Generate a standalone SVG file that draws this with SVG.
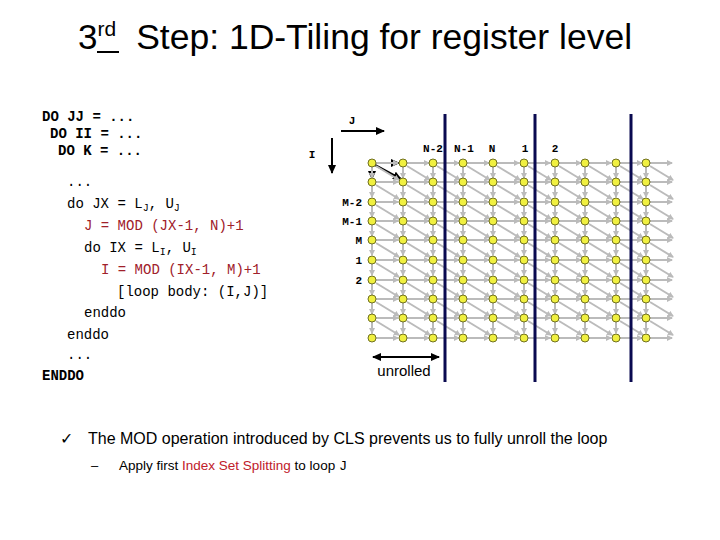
<svg xmlns="http://www.w3.org/2000/svg" xmlns:xlink="http://www.w3.org/1999/xlink" width="720" height="540" viewBox="0 0 720 540">
<style>
.code{font-family:"Liberation Mono",monospace;font-size:14px;fill:#000}
.b{font-weight:bold}
.red{fill:#a0202a}
.lbl{font-family:"Liberation Mono",monospace;font-size:11px;font-weight:bold;fill:#000}
.g{stroke:#bbb;stroke-width:2;fill:none;marker-end:url(#ga)}
.k{stroke:#000;stroke-width:2;fill:none;marker-end:url(#ka)}
.nd{fill:#f0f040;stroke:#707020;stroke-width:1}
.sans{font-family:"Liberation Sans",Arial,sans-serif}
</style>
<defs>
<marker id="ga" markerWidth="6" markerHeight="6" refX="5" refY="3" orient="auto" markerUnits="userSpaceOnUse"><path d="M0,0L6,3L0,6z" fill="#bbb"/></marker>
<marker id="ka" markerWidth="9" markerHeight="8" refX="8" refY="4" orient="auto" markerUnits="userSpaceOnUse"><path d="M0,0L9,4L0,8z" fill="#000"/></marker>
<marker id="ks" markerWidth="9" markerHeight="8" refX="1" refY="4" orient="auto" markerUnits="userSpaceOnUse"><path d="M9,0L0,4L9,8z" fill="#000"/></marker>
<g id="c"><line class="g" x1="4" y1="0" x2="26" y2="0"/><line class="g" x1="4" y1="3" x2="27" y2="17"/><line class="g" x1="0" y1="4" x2="0" y2="15"/><circle class="nd" r="4"/></g>
<g id="e"><line class="g" x1="4" y1="0" x2="26" y2="0"/><circle class="nd" r="4"/></g>
</defs>
<text class="sans" x="78" y="49" font-size="35">3<tspan font-size="21" dy="-13">rd</tspan><tspan dy="13" dx="20" font-size="35.5">Step: 1D-Tiling for register level</tspan></text>
<line x1="97" y1="52" x2="119" y2="52" stroke="#000" stroke-width="2"/>
<g id="code">
<text class="code b" x="42" y="121">DO JJ = ...</text>
<text class="code b" x="50" y="138">DO II = ...</text>
<text class="code b" x="58" y="155">DO K = ...</text>
<text class="code" x="67" y="186">...</text>
<text class="code" x="67" y="208">do JX = L<tspan font-size="10" dy="3">J</tspan><tspan dy="-3">, U</tspan><tspan font-size="10" dy="3">J</tspan></text>
<text class="code red" x="84" y="230">J = MOD (JX-1, N)+1</text>
<text class="code" x="84" y="252">do IX = L<tspan font-size="10" dy="3">I</tspan><tspan dy="-3">, U</tspan><tspan font-size="10" dy="3">I</tspan></text>
<text class="code red" x="101" y="274">I = MOD (IX-1, M)+1</text>
<text class="code" x="117" y="296">[loop body: (I,J)]</text>
<text class="code" x="84" y="317">enddo</text>
<text class="code" x="67" y="339">enddo</text>
<text class="code" x="67" y="359">...</text>
<text class="code b" x="42" y="380">ENDDO</text>
</g>
<g id="connectors">
<line class="k" x1="341" y1="131" x2="384" y2="131"/>
<line class="k" x1="332" y1="138" x2="332" y2="173"/>
<line class="k" x1="376" y1="163" x2="399" y2="163"/>
<line class="k" x1="372" y1="166" x2="372" y2="179"/>
<line class="k" x1="375" y1="165" x2="401" y2="179"/>
<line stroke="#000" stroke-width="2" x1="373" y1="357" x2="439" y2="357" marker-start="url(#ks)" marker-end="url(#ka)"/>
</g>
<g id="grid">
<use xlink:href="#c" x="372" y="163"/><use xlink:href="#c" x="403" y="163"/><use xlink:href="#c" x="433" y="163"/><use xlink:href="#c" x="463" y="163"/><use xlink:href="#c" x="493" y="163"/><use xlink:href="#c" x="524" y="163"/><use xlink:href="#c" x="555" y="163"/><use xlink:href="#c" x="585" y="163"/><use xlink:href="#c" x="616" y="163"/><use xlink:href="#c" x="646" y="163"/>
<use xlink:href="#c" x="372" y="182"/><use xlink:href="#c" x="403" y="182"/><use xlink:href="#c" x="433" y="182"/><use xlink:href="#c" x="463" y="182"/><use xlink:href="#c" x="493" y="182"/><use xlink:href="#c" x="524" y="182"/><use xlink:href="#c" x="555" y="182"/><use xlink:href="#c" x="585" y="182"/><use xlink:href="#c" x="616" y="182"/><use xlink:href="#c" x="646" y="182"/>
<use xlink:href="#c" x="372" y="202"/><use xlink:href="#c" x="403" y="202"/><use xlink:href="#c" x="433" y="202"/><use xlink:href="#c" x="463" y="202"/><use xlink:href="#c" x="493" y="202"/><use xlink:href="#c" x="524" y="202"/><use xlink:href="#c" x="555" y="202"/><use xlink:href="#c" x="585" y="202"/><use xlink:href="#c" x="616" y="202"/><use xlink:href="#c" x="646" y="202"/>
<use xlink:href="#c" x="372" y="221"/><use xlink:href="#c" x="403" y="221"/><use xlink:href="#c" x="433" y="221"/><use xlink:href="#c" x="463" y="221"/><use xlink:href="#c" x="493" y="221"/><use xlink:href="#c" x="524" y="221"/><use xlink:href="#c" x="555" y="221"/><use xlink:href="#c" x="585" y="221"/><use xlink:href="#c" x="616" y="221"/><use xlink:href="#c" x="646" y="221"/>
<use xlink:href="#c" x="372" y="240"/><use xlink:href="#c" x="403" y="240"/><use xlink:href="#c" x="433" y="240"/><use xlink:href="#c" x="463" y="240"/><use xlink:href="#c" x="493" y="240"/><use xlink:href="#c" x="524" y="240"/><use xlink:href="#c" x="555" y="240"/><use xlink:href="#c" x="585" y="240"/><use xlink:href="#c" x="616" y="240"/><use xlink:href="#c" x="646" y="240"/>
<use xlink:href="#c" x="372" y="260"/><use xlink:href="#c" x="403" y="260"/><use xlink:href="#c" x="433" y="260"/><use xlink:href="#c" x="463" y="260"/><use xlink:href="#c" x="493" y="260"/><use xlink:href="#c" x="524" y="260"/><use xlink:href="#c" x="555" y="260"/><use xlink:href="#c" x="585" y="260"/><use xlink:href="#c" x="616" y="260"/><use xlink:href="#c" x="646" y="260"/>
<use xlink:href="#c" x="372" y="280"/><use xlink:href="#c" x="403" y="280"/><use xlink:href="#c" x="433" y="280"/><use xlink:href="#c" x="463" y="280"/><use xlink:href="#c" x="493" y="280"/><use xlink:href="#c" x="524" y="280"/><use xlink:href="#c" x="555" y="280"/><use xlink:href="#c" x="585" y="280"/><use xlink:href="#c" x="616" y="280"/><use xlink:href="#c" x="646" y="280"/>
<use xlink:href="#c" x="372" y="299"/><use xlink:href="#c" x="403" y="299"/><use xlink:href="#c" x="433" y="299"/><use xlink:href="#c" x="463" y="299"/><use xlink:href="#c" x="493" y="299"/><use xlink:href="#c" x="524" y="299"/><use xlink:href="#c" x="555" y="299"/><use xlink:href="#c" x="585" y="299"/><use xlink:href="#c" x="616" y="299"/><use xlink:href="#c" x="646" y="299"/>
<use xlink:href="#c" x="372" y="318"/><use xlink:href="#c" x="403" y="318"/><use xlink:href="#c" x="433" y="318"/><use xlink:href="#c" x="463" y="318"/><use xlink:href="#c" x="493" y="318"/><use xlink:href="#c" x="524" y="318"/><use xlink:href="#c" x="555" y="318"/><use xlink:href="#c" x="585" y="318"/><use xlink:href="#c" x="616" y="318"/><use xlink:href="#c" x="646" y="318"/>
<use xlink:href="#e" x="372" y="338"/><use xlink:href="#e" x="403" y="338"/><use xlink:href="#e" x="433" y="338"/><use xlink:href="#e" x="463" y="338"/><use xlink:href="#e" x="493" y="338"/><use xlink:href="#e" x="524" y="338"/><use xlink:href="#e" x="555" y="338"/><use xlink:href="#e" x="585" y="338"/><use xlink:href="#e" x="616" y="338"/><use xlink:href="#e" x="646" y="338"/>
</g>
<g id="bars" stroke="#0a0a50" stroke-width="3">
<line x1="445" y1="114" x2="445" y2="382"/><line x1="535" y1="114" x2="535" y2="382"/><line x1="631" y1="114" x2="631" y2="382"/>
</g>
<g id="labels">
<text class="lbl" x="352" y="124" text-anchor="middle" font-weight="normal">J</text>
<text class="lbl" x="312" y="158" text-anchor="middle" font-weight="normal">I</text>
<text class="lbl" x="433" y="152" text-anchor="middle">N-2</text>
<text class="lbl" x="464" y="152" text-anchor="middle">N-1</text>
<text class="lbl" x="492" y="152" text-anchor="middle">N</text>
<text class="lbl" x="525" y="152" text-anchor="middle">1</text>
<text class="lbl" x="555" y="152" text-anchor="middle">2</text>
<text class="lbl" x="362" y="206" text-anchor="end">M-2</text>
<text class="lbl" x="362" y="225" text-anchor="end">M-1</text>
<text class="lbl" x="362" y="244" text-anchor="end">M</text>
<text class="lbl" x="362" y="264" text-anchor="end">1</text>
<text class="lbl" x="362" y="284" text-anchor="end">2</text>
<text class="sans" x="404" y="376" font-size="15" text-anchor="middle">unrolled</text>
</g>
<text class="sans" x="60" y="444" font-size="16">✓</text>
<text class="sans" x="88" y="444" font-size="16">The MOD operation introduced by CLS prevents us to fully unroll the loop</text>
<text class="sans" x="91" y="470" font-size="13">–</text>
<text class="sans" x="119" y="470" font-size="13.5">Apply first <tspan fill="#c0202a">Index Set Splitting</tspan> to loop <tspan font-family="Liberation Mono,monospace">J</tspan></text>
</svg>
